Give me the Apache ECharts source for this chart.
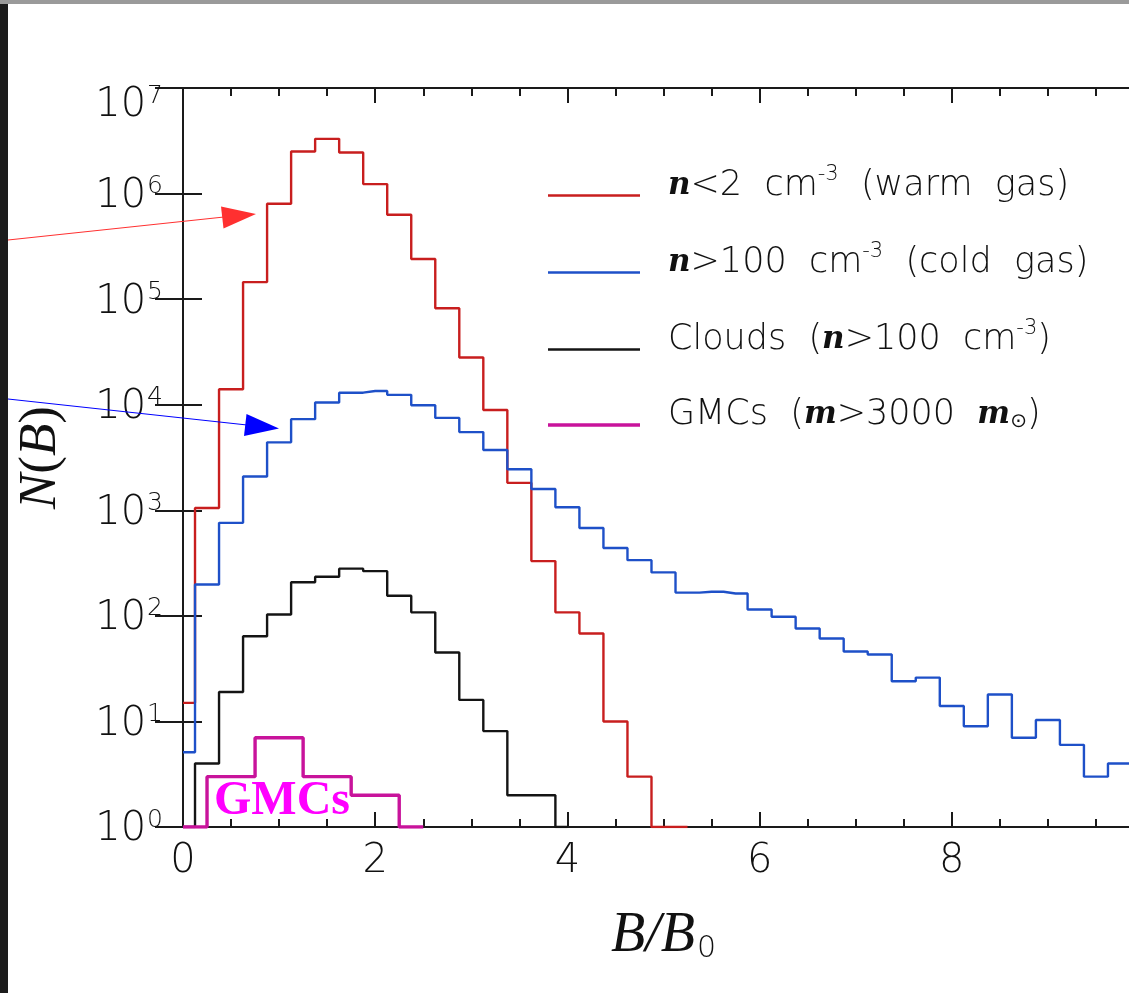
<!DOCTYPE html>
<html>
<head>
<meta charset="utf-8">
<script src="https://cdn.jsdelivr.net/npm/echarts@6/dist/echarts.min.js"></script>
<style>
  html, body { margin: 0; padding: 0; background: #fff; overflow: hidden; }
  #main { width: 1160px; height: 993px; }
</style>
</head>
<body>
<div id="main"></div>
<script>
  // bin centres in B/B0 (bins of 0.25)
  var binB = [0, 0.25, 0.5, 0.75, 1, 1.25, 1.5, 1.75, 2, 2.25, 2.5, 2.75, 3, 3.25, 3.5, 3.75,
    4, 4.25, 4.5, 4.75, 5, 5.25, 5.5, 5.75, 6, 6.25, 6.5, 6.75, 7, 7.25, 7.5, 7.75,
    8, 8.25, 8.5, 8.75, 9, 9.25, 9.5, 9.75, 10];

  // n < 2 cm^-3 (warm gas)
  var warmN = [15, 1050, 14000, 145000, 800000, 2500000, 3300000, 2450000, 1230000, 630000,
    240000, 82000, 28000, 8900, 1820, 330, 108, 68, 10, 3, 1, 1];

  // n > 100 cm^-3 (cold gas)
  var coldN = [5.1, 198, 760, 2090, 4400, 7300, 10500, 13000, 13500, 12400, 9900, 7500, 5500,
    3730, 2450, 1590, 1070, 680, 440, 337, 258, 166, 169, 163, 115, 98, 76, 61, 46, 43,
    24, 26, 14, 9, 18, 7, 10.3, 6, 3, 4, 4];

  // clouds (n > 100 cm^-3)
  var cloudN = [1, 4, 19, 64, 103, 208, 235, 280, 265, 155, 108, 45, 16, 8.1, 2, 2, 1];

  // GMCs (m > 3000 Msun), bins of 0.5
  var gmcB = [0, 0.5, 1, 1.5, 2, 2.5];
  var gmcN = [1, 3, 7, 3, 2, 1];

  var legendText = {
    warm: '{m|n}{t|<2  cm}{s|-3}{t|  (warm  gas)}',
    cold: '{m|n}{t|>100  cm}{s|-3}{t|  (cold  gas)}',
    clouds: '{t|Clouds  (}{m|n}{t|>100  cm}{s|-3}{t|)}',
    gmcs: '{t|GMCs  (}{m|m}{t|>3000  }{m|m}{sub|\u2299}{t|)}'
  };

  function pairs(xs, ys) {
    return ys.map(function (y, i) { return [xs[i], y]; });
  }

  var axisColor = '#1a1a1a';
  var sans = 'DejaVu Sans';

  var myChart = echarts.init(document.getElementById('main'));

  function histSeries(name, xs, ys, color, width) {
    return {
      name: name,
      type: 'line',
      step: 'middle',
      showSymbol: false,
      symbol: 'none',
      color: color,
      lineStyle: { color: color, width: width },
      data: pairs(xs, ys),
      xAxisIndex: 0,
      yAxisIndex: 0
    };
  }

  var thin = 'path://M0,0 L0,0 M115,40 L115,40 M0,28.8 L92,28.8 L92,31.2 L0,31.2 Z';
  var thick = 'path://M0,0 L0,0 M115,40 L115,40 M0,28.3 L92,28.3 L92,31.7 L0,31.7 Z';

  myChart.setOption({
    animation: false,
    backgroundColor: '#ffffff',
    grid: {
      left: 183,
      top: 88,
      width: 961,
      height: 739,
      containLabel: false,
      outerBoundsMode: 'none'
    },
    legend: {
      orient: 'vertical',
      left: 548,
      top: 164,
      padding: 0,
      itemWidth: 115,
      itemHeight: 40,
      itemGap: 34,
      selectedMode: false,
      itemStyle: { borderWidth: 0 },
      data: [
        { name: 'warm', icon: thin },
        { name: 'cold', icon: thin },
        { name: 'clouds', icon: thin },
        { name: 'gmcs', icon: thick }
      ],
      formatter: function (name) { return legendText[name]; },
      textStyle: {
        color: '#111',
        rich: {
          t: { fontFamily: sans, fontWeight: 200, fontSize: 35, color: '#111', lineHeight: 40 },
          m: { fontFamily: 'DejaVu Serif', fontStyle: 'italic', fontWeight: 'bold', fontSize: 31, color: '#111', lineHeight: 40 },
          s: { fontFamily: sans, fontWeight: 200, fontSize: 21, color: '#111', lineHeight: 21, padding: [0, 0, 22, 0] },
          sub: { fontFamily: sans, fontSize: 20, color: '#111', lineHeight: 20, padding: [14, 0, 0, 0] }
        }
      }
    },
    xAxis: [{
      type: 'value',
      position: 'bottom',
      min: 0,
      max: 10,
      interval: 2,
      axisLine: { show: true, lineStyle: { color: axisColor, width: 2 } },
      axisTick: { show: true, inside: true, length: 15, lineStyle: { color: axisColor, width: 2 } },
      minorTick: { show: true, splitNumber: 4, length: 8, lineStyle: { color: axisColor, width: 2 } },
      splitLine: { show: false },
      axisLabel: {
        fontFamily: sans, fontWeight: 200, fontSize: 40, color: '#111', margin: 15,
        formatter: function (v) { return v >= 10 ? '' : String(v); }
      },
      name: '{i|B/B}{u|0}',
      nameLocation: 'middle',
      nameGap: 81,
      nameTextStyle: {
        rich: {
          i: { fontFamily: 'Liberation Serif', fontStyle: 'italic', fontSize: 56, color: '#111', lineHeight: 56 },
          u: { fontFamily: sans, fontWeight: 200, fontSize: 30, color: '#111', lineHeight: 30, padding: [26, 0, 0, 2] }
        }
      }
    }, {
      type: 'value',
      position: 'top',
      min: 0,
      max: 10,
      interval: 2,
      axisLine: { show: true, lineStyle: { color: axisColor, width: 2 } },
      axisTick: { show: true, inside: true, length: 15, lineStyle: { color: axisColor, width: 2 } },
      minorTick: { show: true, splitNumber: 4, length: 8, lineStyle: { color: axisColor, width: 2 } },
      splitLine: { show: false },
      axisLabel: { show: false }
    }],
    yAxis: [{
      type: 'log',
      logBase: 10,
      position: 'left',
      min: 1,
      max: 10000000,
      interval: 1,
      axisLine: { show: true, lineStyle: { color: axisColor, width: 2 } },
      axisTick: { show: true, inside: true, length: 19, lineStyle: { color: axisColor, width: 2 } },
      minorTick: { show: false },
      splitLine: { show: false },
      axisLabel: {
        margin: 20,
        formatter: function (v) {
          var e = Math.round(Math.log(v) / Math.LN10);
          return e === 7 ? '{b7|10}{s7|' + e + '}' : '{b|10}{s|' + e + '}';
        },
        rich: {
          b: { fontFamily: sans, fontWeight: 200, fontSize: 40, color: '#111', lineHeight: 40, padding: [6, 0, 0, 0] },
          s: { fontFamily: sans, fontWeight: 200, fontSize: 25, color: '#111', lineHeight: 25, padding: [6, 0, 20, 1] },
          b7: { fontFamily: sans, fontWeight: 200, fontSize: 40, color: '#111', lineHeight: 40, padding: [36, 0, 0, 0] },
          s7: { fontFamily: sans, fontWeight: 200, fontSize: 25, color: '#111', lineHeight: 25, padding: [36, 0, 20, 1] }
        }
      },
      name: '{i|N}{r|(}{i|B}{r|)}',
      nameLocation: 'middle',
      nameRotate: 90,
      nameGap: 115,
      nameTextStyle: {
        rich: {
          i: { fontFamily: 'Liberation Serif', fontStyle: 'italic', fontSize: 53, color: '#111' },
          r: { fontFamily: 'Liberation Serif', fontSize: 53, color: '#111' }
        }
      }
    }, {
      type: 'log',
      logBase: 10,
      position: 'right',
      min: 1,
      max: 10000000,
      interval: 1,
      axisLine: { show: true, lineStyle: { color: axisColor, width: 2 } },
      axisTick: { show: true, inside: true, length: 28, lineStyle: { color: axisColor, width: 2 } },
      minorTick: { show: false },
      splitLine: { show: false },
      axisLabel: { show: false }
    }],
    graphic: [
      // slide frame bits
      { type: 'rect', shape: { x: 0, y: 0, width: 8, height: 993 }, style: { fill: '#1c1c1c' }, z: 100 },
      { type: 'rect', shape: { x: 0, y: 0, width: 1160, height: 4 }, style: { fill: '#9a9a9a' }, z: 101 },
      // red arrow
      { type: 'line', shape: { x1: 8, y1: 240, x2: 224, y2: 217 }, style: { stroke: '#ff3030', lineWidth: 1 }, z: 102 },
      { type: 'polygon', shape: { points: [[256, 214], [221, 206.5], [223.5, 228.5]] }, style: { fill: '#ff3030' }, z: 102 },
      // blue arrow
      { type: 'line', shape: { x1: 8, y1: 399, x2: 247, y2: 425 }, style: { stroke: '#0000ff', lineWidth: 1 }, z: 102 },
      { type: 'polygon', shape: { points: [[279, 428.5], [246.5, 414], [244, 436]] }, style: { fill: '#0000ff' }, z: 102 },
      // GMCs annotation
      {
        type: 'text', x: 214, y: 802, z: 102,
        style: {
          text: 'GMCs', fill: '#ff00ff', font: 'bold 48px "Liberation Serif"',
          textAlign: 'left', textVerticalAlign: 'middle', verticalAlign: 'middle'
        }
      }
    ],
    series: [
      histSeries('warm', binB, warmN, '#c81e1e', 2.4),
      histSeries('cold', binB, coldN, '#1e50c8', 2.4),
      histSeries('clouds', binB, cloudN, '#141414', 2.4),
      histSeries('gmcs', gmcB, gmcN, '#c8139b', 3.4)
    ]
  });
</script>
</body>
</html>
